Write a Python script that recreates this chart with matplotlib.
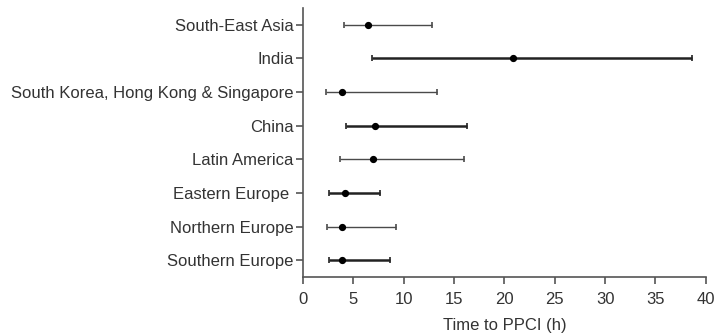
import matplotlib.pyplot as plt

regions = ["South-East Asia", "India", "South Korea, Hong Kong & Singapore", "China",
           "Latin America", "Eastern Europe ", "Northern Europe", "Southern Europe"]
median = [6.4, 20.9, 3.9, 7.1, 6.9, 4.2, 3.9, 3.9]
lower = [4.1, 6.8, 2.3, 4.3, 3.7, 2.6, 2.4, 2.6]
upper = [12.8, 38.6, 13.3, 16.3, 16.0, 7.6, 9.2, 8.6]
bar_width = [1.0, 1.8, 1.0, 1.8, 1.0, 1.8, 1.0, 1.8]

plt.rcParams['font.family'] = ['Liberation Sans', 'DejaVu Sans']
txt = '#333333'
axc = '#555555'

fig = plt.figure(figsize=(7.15, 3.35), dpi=100)
ax = fig.add_axes([0.424, 0.173, 0.563, 0.803])

for i, name in enumerate(regions):
    col = '#222222' if bar_width[i] > 1.5 else '#4a4a4a'
    ax.errorbar(median[i], i, xerr=[[median[i] - lower[i]], [upper[i] - median[i]]],
                fmt='o', color='black', ecolor=col, elinewidth=bar_width[i],
                capsize=2.5, capthick=1.2, markersize=4.2)

ax.set_yticks(range(len(regions)))
ax.set_yticklabels(regions)
ax.set_ylim(len(regions) - 0.5, -0.5)
ax.set_xlim(0, 40)
ax.set_xticks(range(0, 41, 5))
ax.set_xlabel("Time to PPCI (h)", fontsize=12, color=txt, labelpad=8)

for s in ['top', 'right']:
    ax.spines[s].set_visible(False)
for s in ['left', 'bottom']:
    ax.spines[s].set_color(axc)
    ax.spines[s].set_linewidth(1.2)
ax.tick_params(axis='both', colors=axc, labelcolor=txt, labelsize=12, width=1.2, length=5)
ax.tick_params(axis='x', pad=6)
ax.tick_params(axis='y', pad=2)

fig.savefig('out.png', dpi=100)
